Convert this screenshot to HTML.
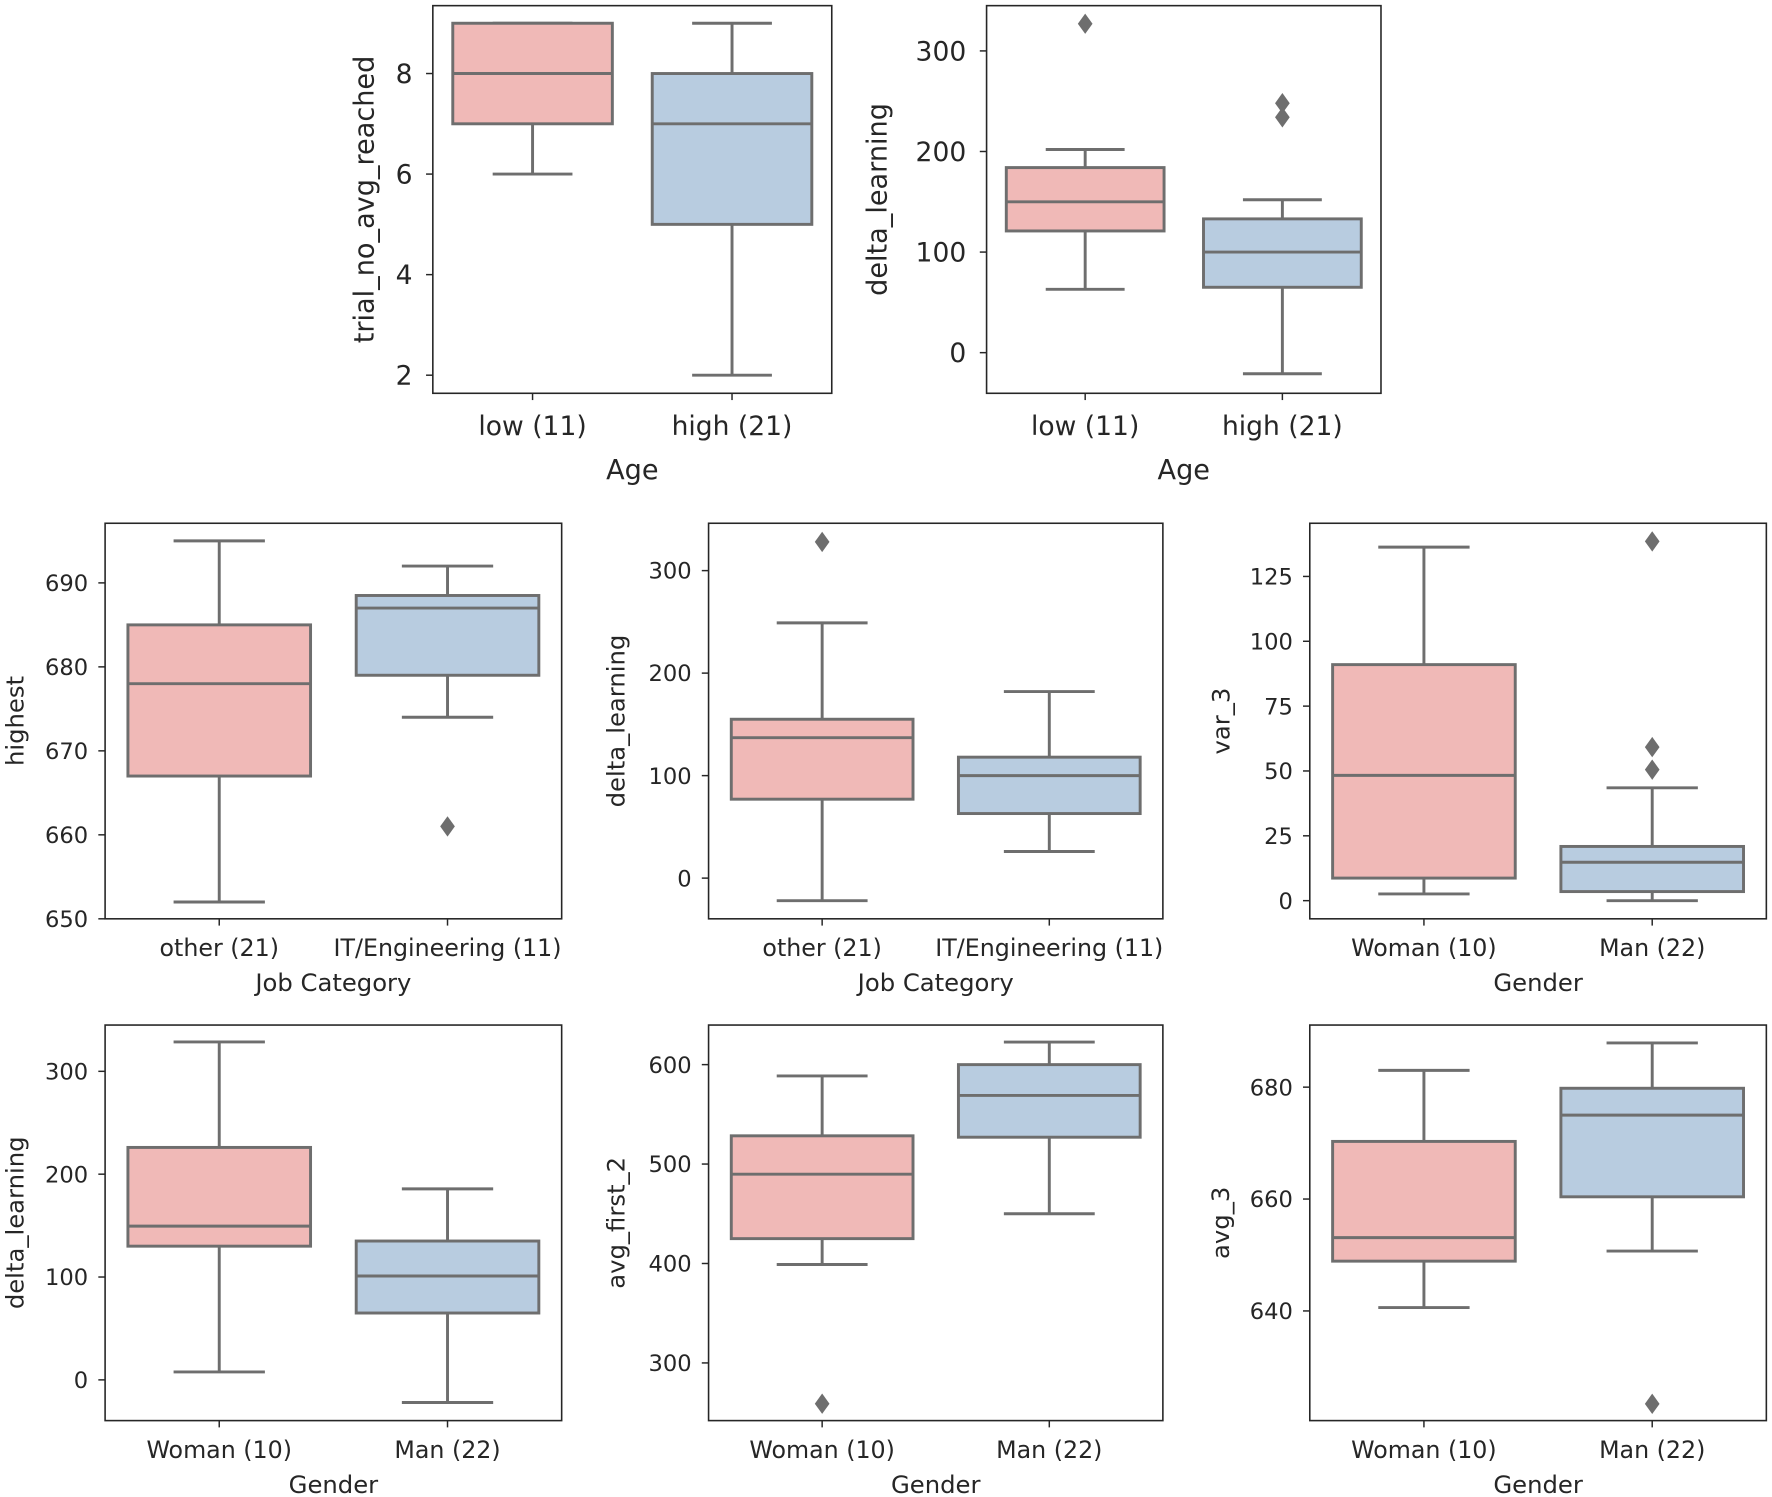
<!DOCTYPE html>
<html><head><meta charset="utf-8">
<style>
html,body{margin:0;padding:0;background:#fff;}
svg{display:block;}
text{font-family:"DejaVu Sans","Liberation Sans",sans-serif;fill:#262626;}
</style></head>
<body>
<svg id="fig" width="1772" height="1497" viewBox="0 0 1568 1324.6" preserveAspectRatio="none" xmlns="http://www.w3.org/2000/svg"></svg>
<script>
// ---- data (stats per category: [whiskerLow, q1, median, q3, whiskerHigh]) ----
const catsAge = ["low (11)", "high (21)"];
const catsJob = ["other (21)", "IT/Engineering (11)"];
const catsGender = ["Woman (10)", "Man (22)"];

const statsA = [[6, 7, 8, 9, 9], [2, 5, 7, 8, 9]];
const outliersA = [[], []];
const ticksA = [2, 4, 6, 8];
const domainA = [1.64, 9.35];

const statsB = [[63, 121, 150, 184, 202], [-21, 65, 100, 133, 152]];
const outliersB = [[327], [234, 248]];
const ticksB = [0, 100, 200, 300];
const domainB = [-40.4, 345];

const statsC = [[652, 667, 678, 685, 695], [674, 679, 687, 688.5, 692]];
const outliersC = [[], [661]];
const ticksC = [650, 660, 670, 680, 690];
const domainC = [650, 697.1];

const statsD = [[-22, 77, 137, 155, 249], [26, 63, 100, 118, 182]];
const outliersD = [[328], []];
const ticksD = [0, 100, 200, 300];
const domainD = [-39.7, 346.2];

const statsE = [[2.6, 8.7, 48.3, 91, 136.3], [0, 3.5, 14.8, 20.9, 43.5]];
const outliersE = [[], [138.5, 59.2, 50.5]];
const ticksE = [0, 25, 50, 75, 100, 125];
const domainE = [-7, 145.5];

const statsF = [[7.7, 130, 149.5, 226, 328.6], [-22, 65, 101, 135, 185.7]];
const outliersF = [[], []];
const ticksF = [0, 100, 200, 300];
const domainF = [-39.6, 345];

const statsG = [[399, 425, 489.8, 528.4, 588.6], [450, 527, 569, 600, 622.7]];
const outliersG = [[259], []];
const ticksG = [300, 400, 500, 600];
const domainG = [242, 639.8];

const statsH = [[640.6, 648.9, 653.1, 670.3, 683], [650.7, 660.4, 675, 679.8, 687.9]];
const outliersH = [[], [623.4]];
const ticksH = [640, 660, 680];
const domainH = [620.4, 691.1];

// ---- layout (pixels in viewBox units) ----
const big = {tick:23.5, xtick:23.5, title:24, tickOff:18, xtY:37, xtitleY:76};
const small = {tick:20, xtick:21, title:21.5, tickOff:15, xtY:33, xtitleY:64};
const panels = [
  {id:"age-trial", x0:383, x1:736, y0:5, y1:348, ylab:"trial_no_avg_reached", xlab:"Age", ylx:322, f:big, cats:catsAge, stats:statsA, out:outliersA, ticks:ticksA, dom:domainA},
  {id:"age-delta", x0:873, x1:1222, y0:5, y1:348, ylab:"delta_learning", xlab:"Age", ylx:776, f:big, cats:catsAge, stats:statsB, out:outliersB, ticks:ticksB, dom:domainB},
  {id:"job-highest", x0:93, x1:497, y0:463, y1:813, ylab:"highest", xlab:"Job Category", ylx:13, f:small, cats:catsJob, stats:statsC, out:outliersC, ticks:ticksC, dom:domainC},
  {id:"job-delta", x0:627, x1:1029, y0:463, y1:813, ylab:"delta_learning", xlab:"Job Category", ylx:545, f:small, cats:catsJob, stats:statsD, out:outliersD, ticks:ticksD, dom:domainD},
  {id:"gender-var3", x0:1159, x1:1563, y0:463, y1:813, ylab:"var_3", xlab:"Gender", ylx:1080, f:small, cats:catsGender, stats:statsE, out:outliersE, ticks:ticksE, dom:domainE},
  {id:"gender-delta", x0:93, x1:497, y0:907, y1:1257, ylab:"delta_learning", xlab:"Gender", ylx:13, f:small, cats:catsGender, stats:statsF, out:outliersF, ticks:ticksF, dom:domainF},
  {id:"gender-avgfirst2", x0:627, x1:1029, y0:907, y1:1257, ylab:"avg_first_2", xlab:"Gender", ylx:545, f:small, cats:catsGender, stats:statsG, out:outliersG, ticks:ticksG, dom:domainG},
  {id:"gender-avg3", x0:1159, x1:1563, y0:907, y1:1257, ylab:"avg_3", xlab:"Gender", ylx:1080, f:small, cats:catsGender, stats:statsH, out:outliersH, ticks:ticksH, dom:domainH}
];
const fills = ["#f0b9b7", "#b8cce0"];
const lineCol = "#6e6e6e";
const NS = "http://www.w3.org/2000/svg";
const svg = document.getElementById("fig");

function mk(tag, attrs, parent, txt){
  const e = document.createElementNS(NS, tag);
  for (const k in attrs) e.setAttribute(k, attrs[k]);
  if (txt !== undefined) e.textContent = txt;
  parent.appendChild(e);
  return e;
}

panels.forEach(p => {
  const f = p.f;
  const g = mk("g", {}, svg);
  
  
  const y = v => p.y1 - (v - p.dom[0]) / (p.dom[1] - p.dom[0]) * (p.y1 - p.y0);
  const band = (p.x1 - p.x0) / p.cats.length;
  const xc = i => p.x0 + band * (i + 0.5);
  const bw = band * 0.8;

  p.stats.forEach((s, i) => {
    const cx = xc(i);
    const bg = mk("g", {}, g);
    
    
    const st = {stroke: lineCol, "stroke-width": 2.6, fill: "none"};
    mk("line", Object.assign({x1: cx, x2: cx, y1: y(s[0]), y2: y(s[1])}, st), bg);
    mk("line", Object.assign({x1: cx, x2: cx, y1: y(s[3]), y2: y(s[4])}, st), bg);
    mk("line", Object.assign({x1: cx - bw/4, x2: cx + bw/4, y1: y(s[0]), y2: y(s[0])}, st), bg);
    mk("line", Object.assign({x1: cx - bw/4, x2: cx + bw/4, y1: y(s[4]), y2: y(s[4])}, st), bg);
    mk("rect", {x: cx - bw/2, y: y(s[3]), width: bw, height: y(s[1]) - y(s[3]), fill: fills[i], stroke: lineCol, "stroke-width": 2.6}, bg);
    mk("line", Object.assign({x1: cx - bw/2, x2: cx + bw/2, y1: y(s[2]), y2: y(s[2])}, st), bg);
    p.out[i].forEach(v => {
      const oy = y(v);
      const d = mk("path", {d: `M${cx} ${oy-9} L${cx+6.5} ${oy} L${cx} ${oy+9} L${cx-6.5} ${oy} Z`, fill: lineCol}, bg);
      
      
    });
  });

  const fr = mk("rect", {x: p.x0, y: p.y0, width: p.x1 - p.x0, height: p.y1 - p.y0, fill: "none", stroke: "#262626", "stroke-width": 1.4}, g);
  
  

  p.ticks.forEach(t => {
    const ty = y(t);
    mk("line", {x1: p.x0 - 6, x2: p.x0, y1: ty, y2: ty, stroke: "#262626", "stroke-width": 1.3}, g);
    const tl = mk("text", {x: p.x0 - f.tickOff, y: ty + f.tick * 0.36, "text-anchor": "end", "font-size": f.tick}, g, String(t));
    
    
  });
  p.cats.forEach((c, i) => {
    const cx = xc(i);
    mk("line", {x1: cx, x2: cx, y1: p.y1, y2: p.y1 + 6, stroke: "#262626", "stroke-width": 1.3}, g);
    const xl = mk("text", {x: cx, y: p.y1 + f.xtY, "text-anchor": "middle", "font-size": f.xtick}, g, c);
    
    
  });
  const xt = mk("text", {x: (p.x0 + p.x1) / 2, y: p.y1 + f.xtitleY, "text-anchor": "middle", "font-size": f.title}, g, p.xlab);
  
  
  const yc = (p.y0 + p.y1) / 2;
  const yt = mk("text", {x: p.ylx, y: yc, "text-anchor": "middle", "font-size": f.title, transform: `rotate(-90 ${p.ylx} ${yc})`, dy: "0.36em"}, g, p.ylab);
  
  
});
</script>
</body></html>
